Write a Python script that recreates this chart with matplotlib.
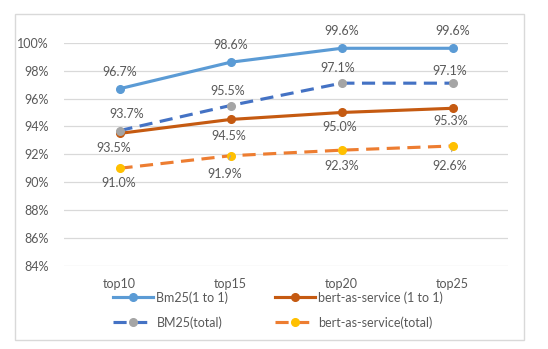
import numpy as np
import matplotlib.pyplot as plt
from matplotlib.patches import Rectangle
from matplotlib.ticker import FuncFormatter

plt.rcParams['font.family'] = ['Lato', 'DejaVu Sans']

categories = ["top10", "top15", "top20", "top25"]
bm25_1to1 = [96.7, 98.6, 99.6, 99.6]
bert_1to1 = [93.5, 94.5, 95.0, 95.3]
bm25_total = [93.7, 95.5, 97.1, 97.1]
bert_total = [91.0, 91.9, 92.3, 92.6]

txt = "#595959"
grid = "#D9D9D9"
fs = 9

fig = plt.figure(figsize=(5.48, 3.49), dpi=100)
ax = fig.add_axes([64 / 548, 83 / 349, 444 / 548, 223.3 / 349])

x = np.arange(len(categories))
lw = 2.25
ms = 5.5

l1, = ax.plot(x, bm25_1to1, color="#5B9BD5", lw=lw, marker="o", ms=ms,
              label="Bm25(1 to 1)", zorder=4)
l2, = ax.plot(x, bert_1to1, color="#C55A11", lw=lw, marker="o", ms=ms,
              label="bert-as-service (1 to 1)", zorder=3)
l3, = ax.plot(x, bm25_total, color="#4472C4", lw=lw, ls=(0, (4.2, 2.4)), marker="o", ms=ms,
              mfc="#A5A5A5", mec="#A5A5A5", label="BM25(total)", zorder=5)
l4, = ax.plot(x, bert_total, color="#ED7D31", lw=lw, ls=(0, (4.2, 2.4)), marker="o", ms=ms,
              mfc="#FFC000", mec="#FFC000", label="bert-as-service(total)", zorder=3)

# label offsets in pixels (dx, dy), and whether a leader line is drawn
offs = {
    "bm25_1to1": [(0, 17), (0, 17), (0, 17), (0, 17)],
    "bm25_total": [(7, 17), (-3, 15), (-4, 15), (-3, 12)],
    "bert_1to1": [(-6, -15), (-2, -17), (-2, -15), (-2, -13)],
    "bert_total": [(-1, -15), (-6, -18), (0, -16), (-3, -20)],
}
leaders = {("bm25_total", 0), ("bert_total", 1), ("bert_total", 3)}
series = {"bm25_1to1": bm25_1to1, "bm25_total": bm25_total,
          "bert_1to1": bert_1to1, "bert_total": bert_total}

for name, vals in series.items():
    for i, v in enumerate(vals):
        dx, dy = offs[name][i]
        ap = None
        if (name, i) in leaders:
            ap = dict(arrowstyle="-", color="#A6A6A6", lw=0.8, shrinkA=4, shrinkB=3)
        ax.annotate(f"{v:.1f}%", (i, v), xytext=(dx, dy), textcoords="offset pixels",
                    ha="center", va="center", fontsize=fs, color=txt,
                    arrowprops=ap, zorder=6)

ax.set_xlim(-0.5, 3.5)
ax.set_ylim(84, 100)
ax.set_yticks(np.arange(84, 101, 2))
ax.yaxis.set_major_formatter(FuncFormatter(lambda v, p: f"{v:.0f}%"))
ax.set_xticks(x)
ax.set_xticklabels(categories)
ax.tick_params(axis="both", length=0, colors=txt, labelsize=fs)
ax.tick_params(axis="y", pad=11)
ax.tick_params(axis="x", pad=9)
ax.grid(axis="y", color=grid, lw=0.9)
ax.set_axisbelow(True)
for s in ax.spines.values():
    s.set_visible(False)

fig.legend(handles=[l1, l3, l2, l4], loc="center",
           bbox_to_anchor=(278 / 548, 1 - 310 / 349), ncol=2,
           frameon=False, fontsize=fs, labelcolor=txt, handlelength=3.2,
           handletextpad=0.3, columnspacing=3.7, labelspacing=1.0)

fig.patches.append(Rectangle((15 / 548, 1 - 340 / 349), 509 / 548, 326 / 349,
                             transform=fig.transFigure, fill=False,
                             edgecolor=grid, lw=1))

fig.savefig("out.png", dpi=100)
